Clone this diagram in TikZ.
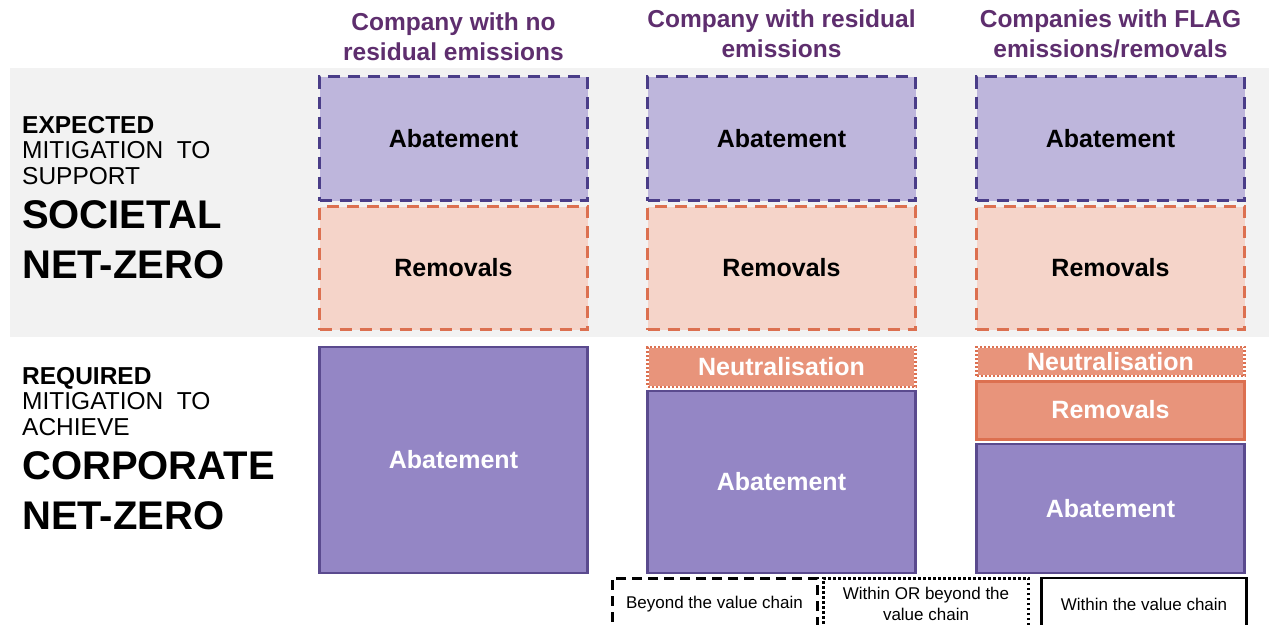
\documentclass[tikz,border=0pt]{standalone}
\usepackage{fontspec}
\setmainfont{Liberation Sans}
\definecolor{headPurple}{HTML}{5E2E6E}
\definecolor{abLight}{HTML}{BEB6DC}
\definecolor{abDark}{HTML}{4A3D88}
\definecolor{abFill}{HTML}{9486C5}
\definecolor{abLine}{HTML}{5A4A8E}
\definecolor{rmLight}{HTML}{F5D4C9}
\definecolor{rmDark}{HTML}{DC7050}
\definecolor{rmFill}{HTML}{E8947B}
\definecolor{bandGray}{HTML}{F2F2F2}
\tikzset{
  colbox/.style={inner sep=0pt, minimum width=268pt, font=\fontsize{25}{28}\selectfont\bfseries},
  abdashed/.style={colbox, draw=abDark, fill=abLight, line width=3pt, dash pattern=on 12pt off 8pt},
  rmdashed/.style={colbox, draw=rmDark, fill=rmLight, line width=3pt, dash pattern=on 12pt off 8pt},
  absolid/.style={colbox, draw=abLine, fill=abFill, line width=2.5pt, text=white},
  rmsolid/.style={colbox, draw=rmDark, fill=rmFill, line width=3pt, text=white},
  neutbox/.style={colbox, draw=white, fill=rmFill, line width=2.5pt, text=white,
    postaction={draw=rmDark, line width=2.5pt, dash pattern=on 2pt off 2pt}},
  colhead/.style={align=center, text=headPurple, font=\fontsize{24.5}{30}\selectfont\bfseries},
  sidesmall/.style={anchor=north west, align=left, inner sep=0pt, font=\fontsize{24.5}{25.5}\selectfont},
  sidebig/.style={anchor=north west, align=left, inner sep=0pt, font=\fontsize{40}{50}\selectfont\bfseries},
  legbox/.style={draw=black, line width=3pt, minimum width=205pt, minimum height=52pt, inner sep=0pt, align=center, font=\fontsize{17}{21}\selectfont}
}
\begin{document}
\begin{tikzpicture}[x=1pt,y=-1pt]
  \clip (0,0) rectangle (1269,624);
  \fill[white] (0,0) rectangle (1269,624);
  \fill[bandGray] (10,68) rectangle (1269,337);

  \node[colhead] (headA) at (453.5,37) {Company with no\\residual emissions};
  \node[colhead] (headB) at (781.5,34) {Company with residual\\emissions};
  \node[colhead] (headC) at (1110.5,34) {Companies with FLAG\\emissions/removals};

  \node[sidesmall] (expTxt) at (22,116) {\textbf{EXPECTED}\\MITIGATION\ \ TO\\SUPPORT};
  \node[sidebig] (socTxt) at (22,200) {SOCIETAL\\NET-ZERO};
  \node[sidesmall] (reqTxt) at (22,367) {\textbf{REQUIRED}\\MITIGATION\ \ TO\\ACHIEVE};
  \node[sidebig] (corpTxt) at (22,451) {CORPORATE\\NET-ZERO};

  \node[abdashed, minimum height=124pt] (expAbA) at (453.5,138.5) {Abatement};
  \node[rmdashed, minimum height=123pt] (expRmA) at (453.5,268) {Removals};
  \node[abdashed, minimum height=124pt] (expAbB) at (781.5,138.5) {Abatement};
  \node[rmdashed, minimum height=123pt] (expRmB) at (781.5,268) {Removals};
  \node[abdashed, minimum height=124pt] (expAbC) at (1110.5,138.5) {Abatement};
  \node[rmdashed, minimum height=123pt] (expRmC) at (1110.5,268) {Removals};

  \node[absolid, minimum height=226pt] (reqAbA) at (453.5,460) {Abatement};
  \node[neutbox, minimum height=40pt] (reqNtB) at (781.5,367) {Neutralisation};
  \node[absolid, minimum height=182pt] (reqAbB) at (781.5,482) {Abatement};
  \node[neutbox, minimum height=29pt] (reqNtC) at (1110.5,361.5) {Neutralisation};
  \node[rmsolid, minimum height=58pt] (reqRmC) at (1110.5,410) {Removals};
  \node[absolid, minimum height=129pt] (reqAbC) at (1110.5,508.5) {Abatement};

  \node[legbox, dash pattern=on 10pt off 6pt] (legBeyond) at (714.5,604) {Beyond the value chain};
  \node[legbox, dash pattern=on 2.5pt off 2.5pt] (legEither) at (926,604) {Within OR beyond the\\value chain};
  \node[legbox, line width=2.5pt] (legWithin) at (1144,604) {Within the value chain};
\end{tikzpicture}
\end{document}
